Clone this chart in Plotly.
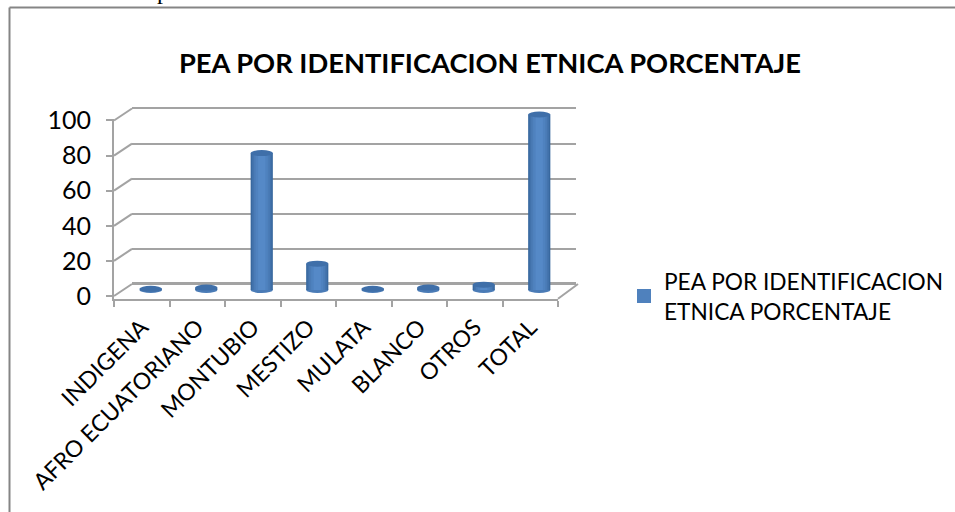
import plotly.graph_objects as go

categories = ["INDIGENA", "AFRO ECUATORIANO", "MONTUBIO", "MESTIZO", "MULATA", "BLANCO", "OTROS", "TOTAL"]
values = [0.7, 1.4, 78, 15, 0.7, 1.4, 3, 100]
series_name = "PEA POR IDENTIFICACION<br>ETNICA PORCENTAJE"
title_text = "PEA POR IDENTIFICACION ETNICA PORCENTAJE"
y_ticks = [0, 20, 40, 60, 80, 100]

W, H = 955, 512
FONT = "Lato"
GRID = "#a3a3a3"
PX_PER_UNIT = 1.755
LEFT, RIGHT, ZERO_Y = 114, 558, 296


def px(x):
    return x / W


def py(y):
    return 1 - y / H


def axes_domains(dx, dy, low, high):
    x_dom = [px(LEFT + dx), px(RIGHT + dx)]
    zero = ZERO_Y + dy
    y_dom = [py(zero - low * PX_PER_UNIT), py(zero - high * PX_PER_UNIT)]
    return x_dom, y_dom


fig = go.Figure()

# back wall (drawn first), mid depth for the columns, front axes
fig.add_trace(go.Bar(x=categories, y=values, xaxis="x2", yaxis="y2", opacity=0,
                     showlegend=False, hoverinfo="skip"))

strips = [(0.40, "#38689f"), (0.35, "#4272ab"), (0.29, "#4a7bb6"),
          (0.22, "#4f82bf"), (0.13, "#5589c7")]
for i, (w, c) in enumerate(strips):
    fig.add_trace(go.Bar(x=categories, y=values, width=w, marker=dict(color=c, line_width=0),
                         xaxis="x3", yaxis="y3", name=series_name,
                         showlegend=False, hoverinfo="skip"))
fig.add_trace(go.Bar(x=categories, y=[None] * len(categories), name=series_name,
                     marker=dict(color="#4F81BD", line=dict(color="#4F81BD", width=2)),
                     xaxis="x3", yaxis="y3", showlegend=True))

fig.add_trace(go.Bar(x=categories, y=values, opacity=0, showlegend=False, hoverinfo="skip"))

x1, y1 = axes_domains(0, 0, -1.6, 100.6)
x2, y2 = axes_domains(18, -12, -1.6, 100.6)
x3, y3 = axes_domains(9, -6, -8, 108)

tickfont = dict(family=FONT, size=25, color="#000000")
shapes = []

# frame
frame = dict(color="#858585", width=2)
shapes.append(dict(type="line", xref="paper", yref="paper", x0=px(9.5), x1=1, y0=py(7.5), y1=py(7.5), line=frame))
shapes.append(dict(type="line", xref="paper", yref="paper", x0=px(9.5), x1=px(9.5), y0=py(7.5), y1=0, line=frame))

# depth connectors
for t in y_ticks:
    shapes.append(dict(type="line", xref="paper", yref="paper",
                       x0=px(LEFT), x1=px(LEFT + 18),
                       y0=py(ZERO_Y - t * PX_PER_UNIT), y1=py(ZERO_Y - 12 - t * PX_PER_UNIT),
                       line=dict(color=GRID, width=2)))
shapes.append(dict(type="line", xref="paper", yref="paper",
                   x0=px(RIGHT), x1=px(RIGHT + 20), y0=py(298.8), y1=py(284),
                   line=dict(color=GRID, width=2)))

# column ends
half_h = 3.0 / PX_PER_UNIT
for i, v in enumerate(values):
    half = 0.2
    shapes.append(dict(type="circle", xref="x3", yref="y3", layer="below",
                       x0=i - half, x1=i + half, y0=-half_h, y1=half_h,
                       fillcolor="#4a7bb6", line_width=0))
    shapes.append(dict(type="circle", xref="x3", yref="y3", layer="above",
                       x0=i - half, x1=i + half, y0=v - half_h, y1=v + half_h,
                       fillcolor="#3f6fa9", line_width=0))

fig.update_layout(
    width=W, height=H, autosize=False,
    margin=dict(l=0, r=0, t=0, b=0, autoexpand=False),
    paper_bgcolor="#ffffff", plot_bgcolor="rgba(0,0,0,0)",
    barmode="overlay", hovermode=False,
    font=dict(family=FONT, color="#000000"),
    title=dict(text="<b>" + title_text + "</b>", x=490 / W, xanchor="center",
               y=py(63), yanchor="middle", font=dict(family=FONT, size=27.3, color="#000000")),
    shapes=shapes,
    annotations=[dict(text="p", xref="paper", yref="paper", x=px(163), xanchor="center",
                      y=py(6), yanchor="bottom", showarrow=False,
                      font=dict(family="Liberation Serif", size=24, color="#000000"))],
    legend=dict(x=px(624), y=py(260), xanchor="left", yanchor="top", bgcolor="rgba(0,0,0,0)",
                font=dict(family=FONT, size=22.7, color="#000000"), itemwidth=30),
    xaxis=dict(domain=x1, type="category", categoryorder="array",
               categoryarray=categories, range=[-0.5, 7.5], anchor="y", automargin=False,
               tickson="boundaries", ticks="outside", ticklen=6, tickcolor=GRID, tickwidth=2,
               showline=True, linecolor=GRID, linewidth=2, showgrid=False, zeroline=False,
               tickangle=-45, tickfont=dict(family=FONT, size=23, color="#000000"),
               ticklabelstandoff=4, fixedrange=True),
    yaxis=dict(domain=y1, range=[-1.6, 100.6], tickmode="array", tickvals=y_ticks,
               ticktext=[str(t) for t in y_ticks], anchor="x", automargin=False,
               ticks="outside", ticklen=6, tickcolor=GRID, tickwidth=2, showline=True,
               linecolor=GRID, linewidth=2, showgrid=False, zeroline=False,
               tickfont=tickfont, ticklabelstandoff=10, fixedrange=True),
    xaxis2=dict(domain=x2, type="category", categoryorder="array", categoryarray=categories,
                range=[-0.5, 7.5], anchor="y2", visible=False, fixedrange=True, automargin=False),
    yaxis2=dict(domain=y2, range=[-1.6, 100.6], anchor="x2", tickmode="array", tickvals=y_ticks,
                showticklabels=False, ticks="", showline=False, showgrid=True, automargin=False,
                gridcolor=GRID, gridwidth=2, zeroline=True, zerolinecolor=GRID, zerolinewidth=3,
                fixedrange=True),
    xaxis3=dict(domain=x3, type="category", categoryorder="array", categoryarray=categories,
                range=[-0.5, 7.5], anchor="y3", visible=False, fixedrange=True, automargin=False),
    yaxis3=dict(domain=y3, range=[-8, 108], anchor="x3", visible=False, fixedrange=True, automargin=False),
)

fig.write_html("out.html", config=dict(displayModeBar=False),
               post_script="document.body.style.margin='0';document.documentElement.style.overflow='hidden';")
